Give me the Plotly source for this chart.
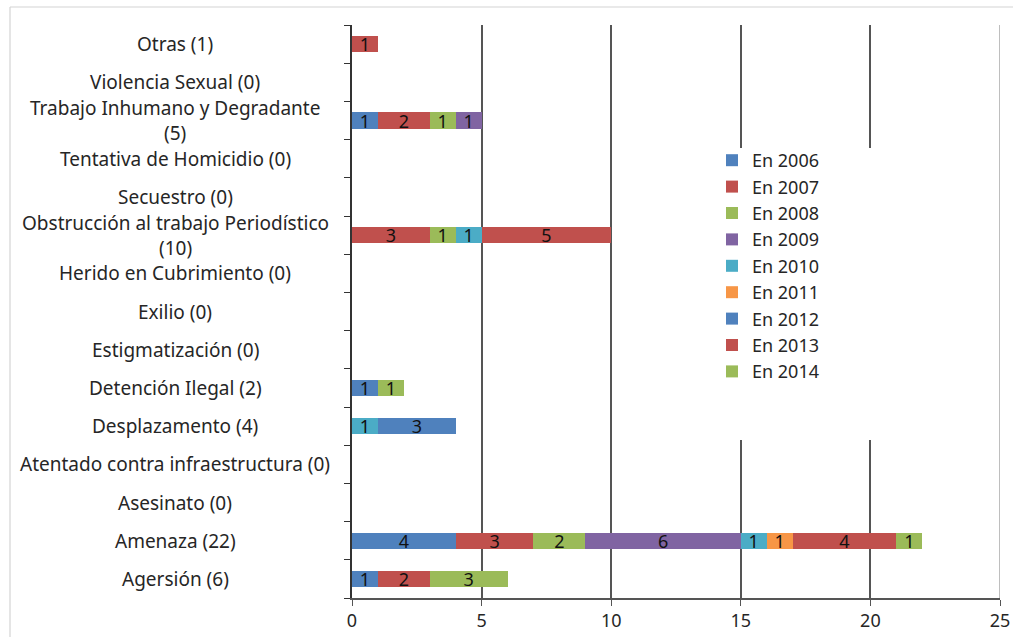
import plotly.graph_objects as go

categories = ["Agersión (6)", "Amenaza (22)", "Asesinato (0)", "Atentado contra infraestructura (0)",
              "Desplazamento (4)", "Detención Ilegal (2)", "Estigmatización (0)", "Exilio (0)",
              "Herido en Cubrimiento (0)", "Obstrucción al trabajo Periodístico (10)", "Secuestro (0)",
              "Tentativa de Homicidio (0)", "Trabajo Inhumano y Degradante (5)", "Violencia Sexual (0)",
              "Otras (1)"]
category_labels = ["Agersión (6)", "Amenaza (22)", "Asesinato (0)", "Atentado contra infraestructura (0)",
                   "Desplazamento (4)", "Detención Ilegal (2)", "Estigmatización (0)", "Exilio (0)",
                   "Herido en Cubrimiento (0)", "Obstrucción al trabajo Periodístico<br>(10)", "Secuestro (0)",
                   "Tentativa de Homicidio (0)", "Trabajo Inhumano y Degradante<br>(5)", "Violencia Sexual (0)",
                   "Otras (1)"]

series_names = ["En 2006", "En 2007", "En 2008", "En 2009", "En 2010", "En 2011", "En 2012", "En 2013", "En 2014"]
v2006 = [1, 4, 0, 0, 0, 1, 0, 0, 0, 0, 0, 0, 1, 0, 0]
v2007 = [2, 3, 0, 0, 0, 0, 0, 0, 0, 3, 0, 0, 2, 0, 1]
v2008 = [3, 2, 0, 0, 0, 1, 0, 0, 0, 1, 0, 0, 1, 0, 0]
v2009 = [0, 6, 0, 0, 0, 0, 0, 0, 0, 0, 0, 0, 1, 0, 0]
v2010 = [0, 1, 0, 0, 1, 0, 0, 0, 0, 1, 0, 0, 0, 0, 0]
v2011 = [0, 1, 0, 0, 0, 0, 0, 0, 0, 0, 0, 0, 0, 0, 0]
v2012 = [0, 0, 0, 0, 3, 0, 0, 0, 0, 0, 0, 0, 0, 0, 0]
v2013 = [0, 4, 0, 0, 0, 0, 0, 0, 0, 5, 0, 0, 0, 0, 0]
v2014 = [0, 1, 0, 0, 0, 0, 0, 0, 0, 0, 0, 0, 0, 0, 0]
series_values = [v2006, v2007, v2008, v2009, v2010, v2011, v2012, v2013, v2014]
colors = ["#4F81BD", "#C0504D", "#9BBB59", "#8064A2", "#4BACC6", "#F79646", "#4F81BD", "#C0504D", "#9BBB59"]

x_ticks = [0, 5, 10, 15, 20, 25]
x_max = 25

FONT = "Noto Sans"
TXT = "#262626"

W, H = 1013, 637
# plot area in page pixels
PL, PR, PT, PB = 352, 1000, 25, 598
L, R, T, B = PL, W - PR, PT, H - PB
pw, ph = W - L - R, H - T - B


def px(xp):
    return (xp - PL) / pw


def py(yp):
    return (PB - yp) / ph


fig = go.Figure()
for name, vals, col in zip(series_names, series_values, colors):
    xs = [v if v else None for v in vals]
    fig.add_trace(go.Bar(
        y=categories, x=xs, name=name, orientation="h",
        marker=dict(color=col, line=dict(width=0)),
        text=[str(v) if v else "" for v in vals],
        textposition="inside", insidetextanchor="middle", textangle=0,
        constraintext="none",
        textfont=dict(family=FONT, size=18, color="#111111"),
        hoverinfo="x+y+name",
    ))

annotations = []
for cat, lab in zip(categories, category_labels):
    annotations.append(dict(
        x=px(175), xref="paper", y=cat, yref="y",
        text=lab, showarrow=False, xanchor="center", yanchor="middle",
        align="center", font=dict(family=FONT, size=19, color=TXT),
    ))

shapes = [
    # lighter gridline at the axis end
    dict(type="line", xref="x", yref="paper", x0=x_max, x1=x_max, y0=0, y1=1,
         line=dict(width=1.5, color="#A8A8A8"), layer="below"),
    # white box behind legend (hides gridlines like the original)
    dict(type="rect", xref="paper", yref="paper",
         x0=px(700), x1=px(885), y0=py(440), y1=py(148),
         fillcolor="white", line=dict(width=0), layer="above"),
    # picture frame: left and top edges
    dict(type="line", xref="paper", yref="paper",
         x0=px(10), x1=px(10), y0=py(640), y1=py(7),
         line=dict(width=1.2, color="#D4D4D4"), layer="below"),
    dict(type="line", xref="paper", yref="paper",
         x0=px(10), x1=px(1015), y0=py(7), y1=py(7),
         line=dict(width=1.2, color="#D4D4D4"), layer="below"),
]

fig.update_layout(
    barmode="stack",
    bargap=0.58,
    width=W, height=H,
    margin=dict(l=L, r=R, t=T, b=B, autoexpand=False),
    paper_bgcolor="white", plot_bgcolor="white",
    font=dict(family=FONT, size=19, color=TXT),
    showlegend=True,
    legend=dict(
        x=px(712), y=py(142), xanchor="left", yanchor="top",
        traceorder="normal", bgcolor="rgba(0,0,0,0)", borderwidth=0,
        font=dict(family=FONT, size=18, color=TXT),
        itemwidth=30, tracegroupgap=0,
    ),
    annotations=annotations,
    shapes=shapes,
    xaxis=dict(
        range=[0, x_max], tickvals=x_ticks, ticktext=[str(t) for t in x_ticks],
        showgrid=True, gridcolor="#555555", gridwidth=1.6,
        showline=True, linecolor="#555555", linewidth=1.5,
        ticks="outside", ticklen=6, tickcolor="#555555",
        tickfont=dict(family=FONT, size=18, color=TXT),
        zeroline=False, fixedrange=True,
    ),
    yaxis=dict(
        type="category", categoryorder="array", categoryarray=categories,
        range=[-0.5, len(categories) - 0.5],
        showticklabels=False, showgrid=False,
        showline=True, linecolor="#333333", linewidth=2,
        ticks="outside", ticklen=6, tickcolor="#333333", tickson="boundaries",
        fixedrange=True,
    ),
)

fig.write_html(
    "out.html",
    config={"displayModeBar": False},
    post_script="document.body.style.margin='0';document.body.style.overflow='hidden';",
)
